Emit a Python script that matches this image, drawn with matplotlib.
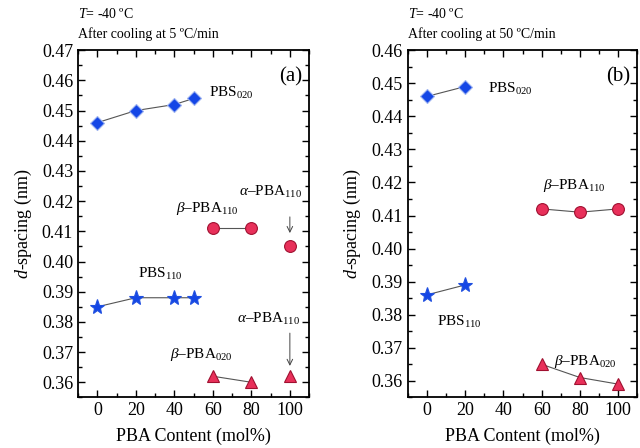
import matplotlib
matplotlib.use('Agg')
import matplotlib.pyplot as plt
from matplotlib.ticker import MultipleLocator

plt.rcParams['font.family'] = 'Liberation Serif'
plt.rcParams['mathtext.fontset'] = 'custom'
plt.rcParams['mathtext.rm'] = 'Liberation Serif'
plt.rcParams['mathtext.it'] = 'Liberation Serif:italic'

# (a) 5 C/min
a_pbs020_x = [0, 20, 40, 50]
a_pbs020_y = [0.446, 0.450, 0.452, 0.454]
a_pbs110_x = [0, 20, 40, 50]
a_pbs110_y = [0.385, 0.388, 0.388, 0.388]
a_bpba110_x = [60, 80]
a_bpba110_y = [0.411, 0.411]
a_apba110_x = [100]
a_apba110_y = [0.405]
a_bpba020_x = [60, 80]
a_bpba020_y = [0.362, 0.360]
a_apba020_x = [100]
a_apba020_y = [0.362]

# (b) 50 C/min
b_pbs020_x = [0, 20]
b_pbs020_y = [0.446, 0.449]
b_pbs110_x = [0, 20]
b_pbs110_y = [0.386, 0.389]
b_bpba110_x = [60, 80, 100]
b_bpba110_y = [0.412, 0.411, 0.412]
b_bpba020_x = [60, 80, 100]
b_bpba020_y = [0.365, 0.361, 0.359]

blue = '#1446e6'
red = '#e8305a'
lc = '#555555'

fig = plt.figure(figsize=(6.4, 4.48), dpi=100)
ax1 = fig.add_axes([0.122, 0.113, 0.361, 0.775])
ax2 = fig.add_axes([0.637, 0.113, 0.359, 0.775])


def series(ax, x, y, m, c, ms, ec):
    ax.plot(x, y, '-', color=lc, lw=0.8, zorder=1)
    ax.plot(x, y, ls='none', marker=m, ms=ms, mfc=c, mec=ec, mew=0.8, zorder=2)


series(ax1, a_pbs020_x, a_pbs020_y, 'D', blue, 7.5, '#9fb4f0')
series(ax1, a_pbs110_x, a_pbs110_y, '*', blue, 11, '#2050e0')
series(ax1, a_bpba110_x, a_bpba110_y, 'o', red, 8.5, '#a01030')
series(ax1, a_apba110_x, a_apba110_y, 'o', red, 8.5, '#a01030')
series(ax1, a_bpba020_x, a_bpba020_y, '^', red, 9, '#a01030')
series(ax1, a_apba020_x, a_apba020_y, '^', red, 9, '#a01030')

series(ax2, b_pbs020_x, b_pbs020_y, 'D', blue, 7.5, '#9fb4f0')
series(ax2, b_pbs110_x, b_pbs110_y, '*', blue, 11, '#2050e0')
series(ax2, b_bpba110_x, b_bpba110_y, 'o', red, 8.5, '#a01030')
series(ax2, b_bpba020_x, b_bpba020_y, '^', red, 9, '#a01030')

fs = 11
ax1.text(58, 0.4557, r'PBS$_{020}$', fontsize=fs, va='center')
ax1.text(57, 0.4175, r'$\beta$–PBA$_{110}$', fontsize=fs, va='center', ha='center')
ax1.text(90, 0.4231, r'$\alpha$–PBA$_{110}$', fontsize=fs, va='center', ha='center')
ax1.text(33, 0.396, r'PBS$_{110}$', fontsize=fs, va='center', ha='center')
ax1.text(89, 0.3811, r'$\alpha$–PBA$_{110}$', fontsize=fs, va='center', ha='center')
ax1.text(54, 0.3692, r'$\beta$–PBA$_{020}$', fontsize=fs, va='center', ha='center')
ax1.annotate('', xy=(100, 0.4085), xytext=(100, 0.4157),
             arrowprops=dict(arrowstyle='->', color='#444444', lw=0.7))
ax1.annotate('', xy=(100, 0.3645), xytext=(100, 0.3772),
             arrowprops=dict(arrowstyle='->', color='#444444', lw=0.7))

ax2.text(32, 0.4483, r'PBS$_{020}$', fontsize=fs, va='center')
ax2.text(77, 0.4192, r'$\beta$–PBA$_{110}$', fontsize=fs, va='center', ha='center')
ax2.text(17, 0.3778, r'PBS$_{110}$', fontsize=fs, va='center', ha='center')
ax2.text(83, 0.3658, r'$\beta$–PBA$_{020}$', fontsize=fs, va='center', ha='center')

for ax, lab, ymax, rate in [(ax1, '(a)', 0.47, '5'), (ax2, '(b)', 0.46, '50')]:
    ax.set_xlim(-10, 110)
    ax.set_ylim(0.355, ymax)
    ax.xaxis.set_major_locator(MultipleLocator(20))
    ax.xaxis.set_minor_locator(MultipleLocator(10))
    ax.yaxis.set_major_locator(MultipleLocator(0.01))
    ax.yaxis.set_minor_locator(MultipleLocator(0.005))
    ax.yaxis.set_major_formatter(plt.FormatStrFormatter('%.2f'))
    ax.tick_params(which='both', direction='in', top=True, right=True, labelsize=13, width=1)
    ax.tick_params(which='major', length=5)
    ax.tick_params(which='minor', length=3)
    for s in ax.spines.values():
        s.set_linewidth(1.3)
    ax.set_xlabel('PBA Content (mol%)', fontsize=13, labelpad=6)
    ax.set_ylabel(r'$d$-spacing (nm)', fontsize=13, labelpad=6)
    ax.text(0.97, 0.95, lab, transform=ax.transAxes, fontsize=15, ha='right', va='top')
    ax.text(0.0, 1.105, r'$T$= -40 ºC', transform=ax.transAxes, fontsize=10, ha='left', va='center')
    ax.text(0.0, 1.045, 'After cooling at ' + rate + ' ºC/min', transform=ax.transAxes,
            fontsize=10, ha='left', va='center')

fig.savefig('out.png', dpi=100)
